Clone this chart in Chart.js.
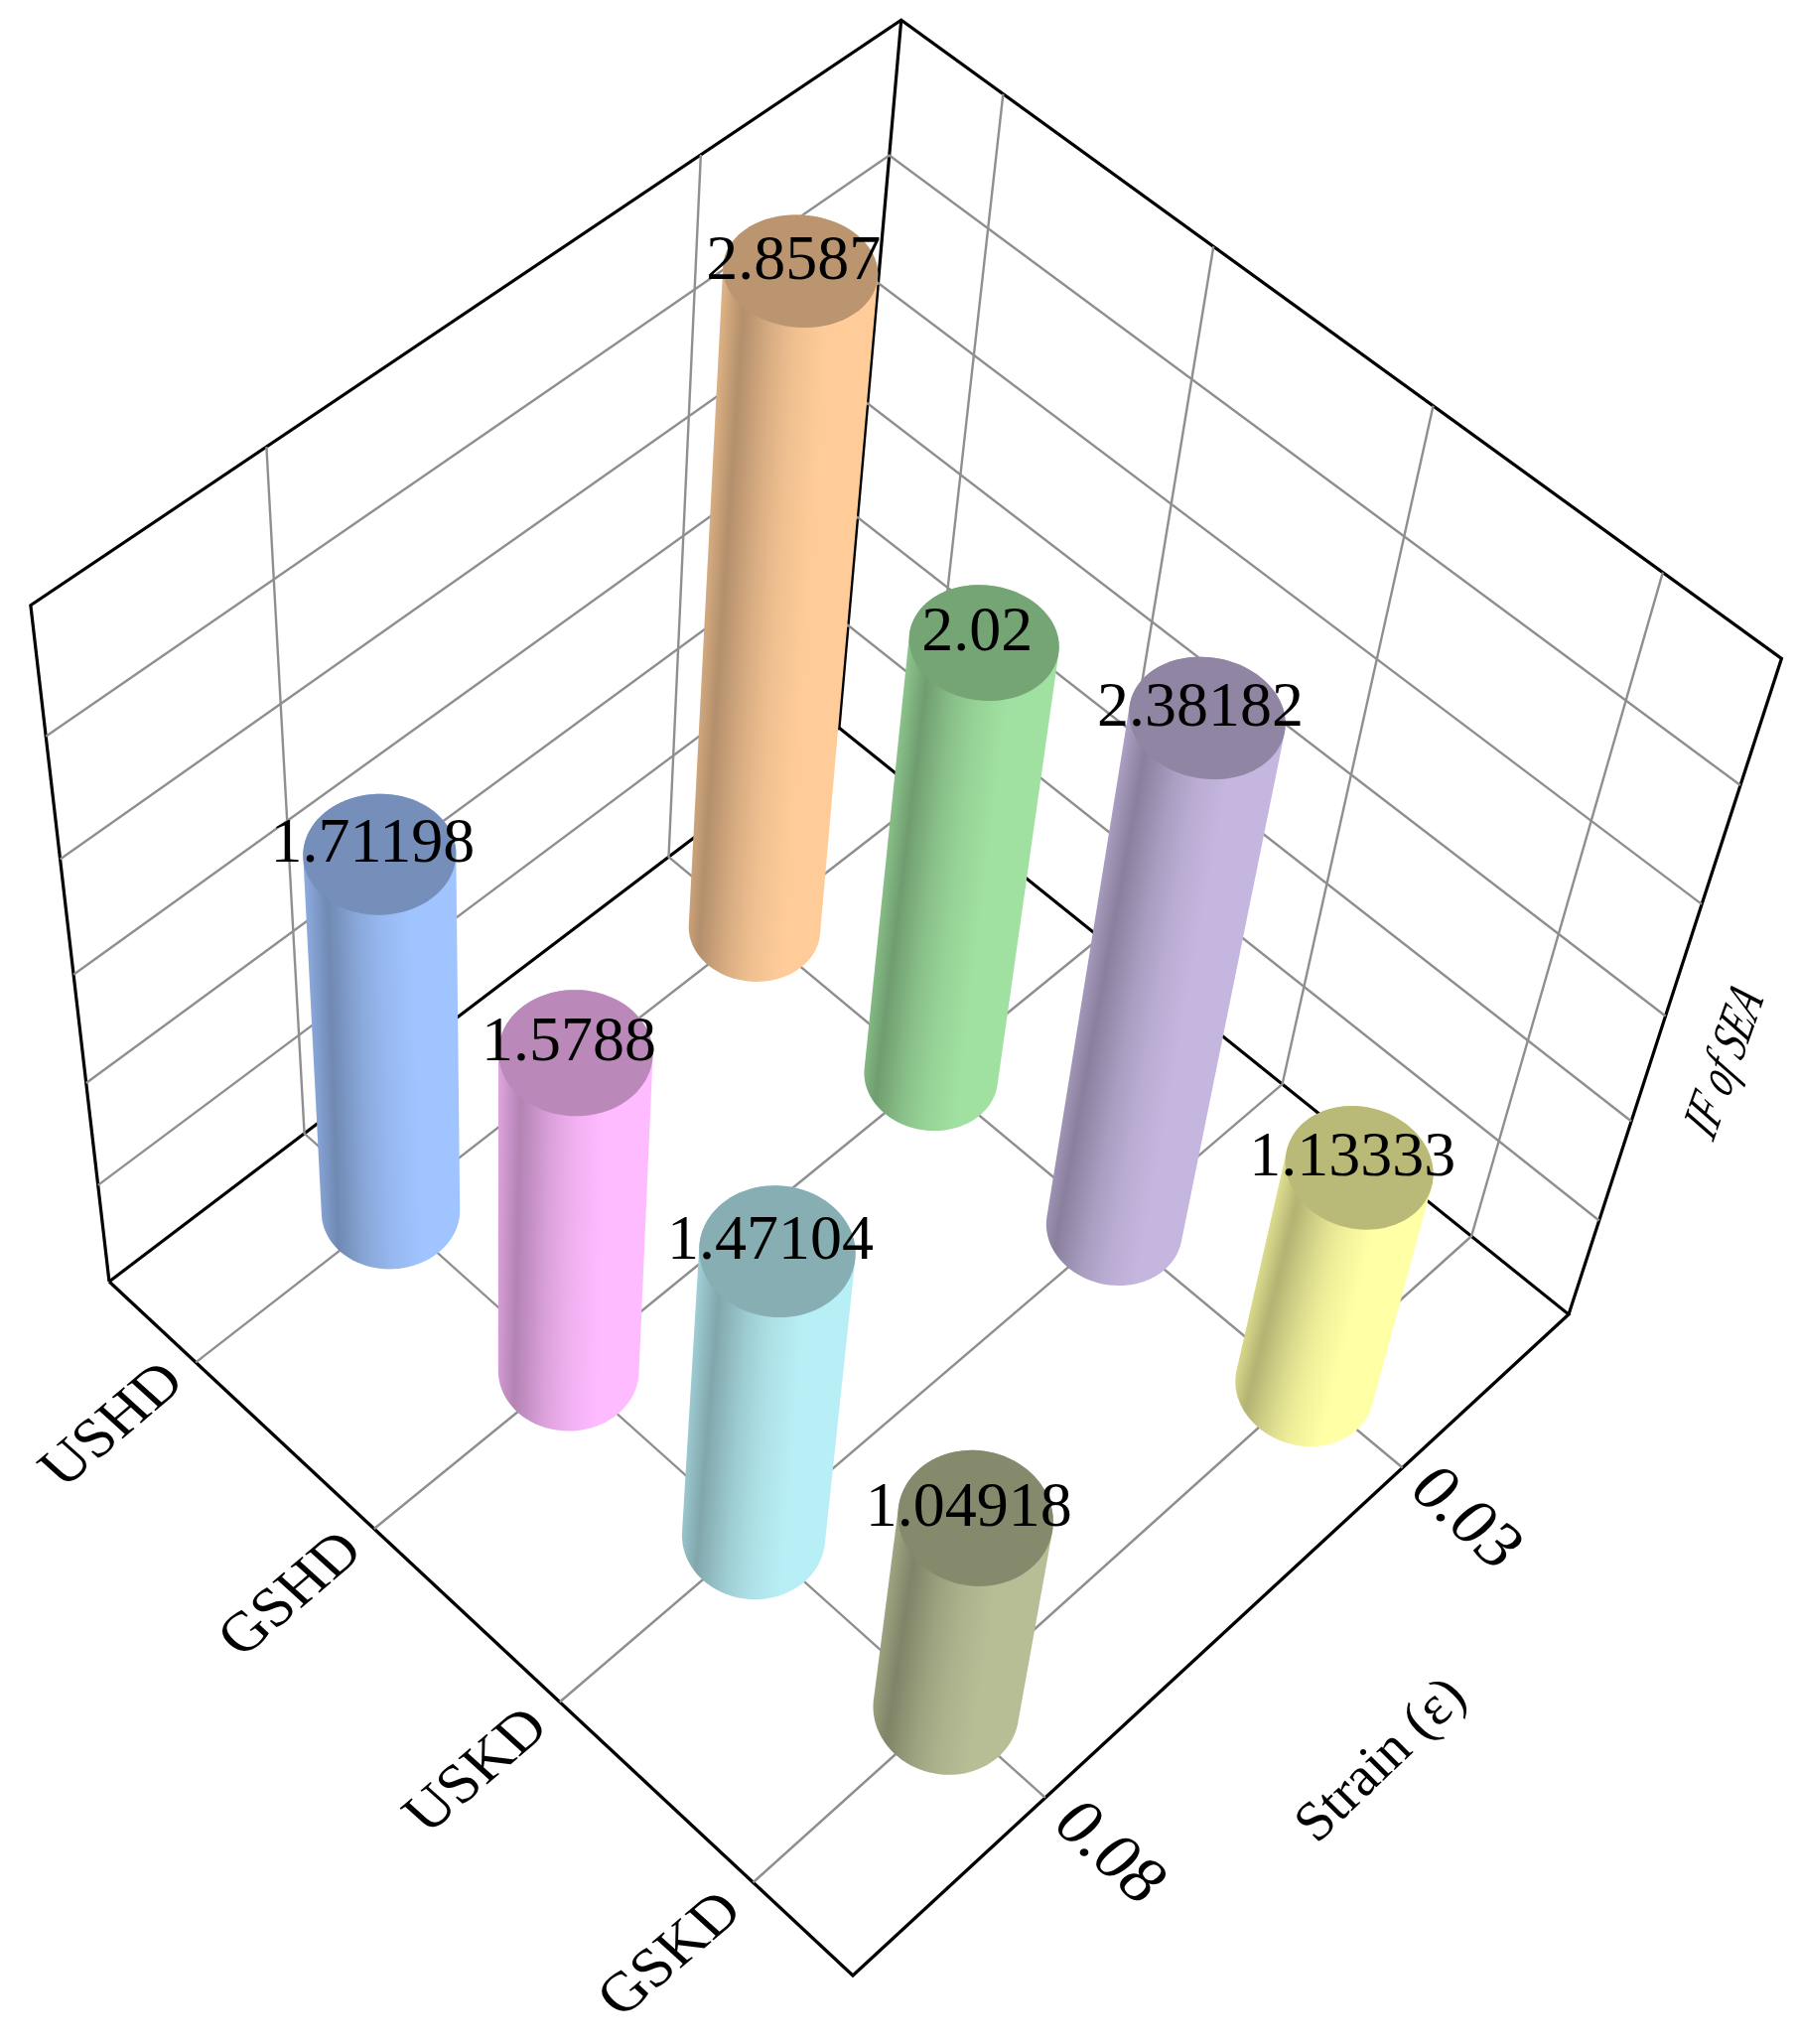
<!DOCTYPE html>
<html>
<head>
<meta charset="utf-8">
<title>IF of SEA</title>
<script src="https://cdn.jsdelivr.net/npm/chart.js@4/dist/chart.umd.min.js"></script>
<style>
  html, body { margin: 0; padding: 0; background: #fff; }
  canvas { display: block; }
</style>
</head>
<body>
<canvas id="chart" width="1811" height="2059"></canvas>
<script>
// Chart data
const categories = ['USHD', 'GSHD', 'USKD', 'GSKD'];
const strains = ['0.08', '0.03'];
const values008 = [1.71198, 1.5788, 1.47104, 1.04918];
const values003 = [2.8587, 2.02, 2.38182, 1.13333];
const zTicks = [0, 0.5, 1, 1.5, 2, 2.5, 3];
const zMax = 3;

// Colours, one per cylinder
const colors008 = ['#A0C4FF', '#FFBBFF', '#B8EEF5', '#B7BD95'];
const colors003 = ['#FFCC99', '#A0E0A0', '#C5B6DF', '#FFFFA5'];

// Camera: where the box corners land on the page
const floorLeft = [110, 1291], floorFront = [859, 1990], floorRight = [1580, 1324], floorBack = [845, 733];
const topLeft = [30, 609], topBack = [908, 22], topRight = [1795, 662];
const radius = 0.067;

// Floor homography, unit square -> quad
function floorMatrix() {
  const [x0, y0] = floorLeft, [x1, y1] = floorFront, [x2, y2] = floorRight, [x3, y3] = floorBack;
  const dx1 = x1 - x2, dx2 = x3 - x2, sx = x0 - x1 + x2 - x3;
  const dy1 = y1 - y2, dy2 = y3 - y2, sy = y0 - y1 + y2 - y3;
  const den = dx1 * dy2 - dx2 * dy1;
  const g = (sx * dy2 - dx2 * sy) / den;
  const h = (dx1 * sy - sx * dy1) / den;
  return { a: x1 - x0 + g * x1, b: x3 - x0 + h * x3, c: x0, d: y1 - y0 + g * y1, e: y3 - y0 + h * y3, f: y0, g, h };
}
const M = floorMatrix();

// Height column, least squares against the three top corners
function heightColumn() {
  const rows = [];
  [[0, 0, topLeft], [0, 1, topBack], [1, 1, topRight]].forEach(([u, v, t]) => {
    const X = M.a * u + M.b * v + M.c, Y = M.d * u + M.e * v + M.f, W = M.g * u + M.h * v + 1;
    rows.push([1, 0, -t[0], t[0] * W - X]);
    rows.push([0, 1, -t[1], t[1] * W - Y]);
  });
  const n = [[0, 0, 0, 0], [0, 0, 0, 0], [0, 0, 0, 0]];
  rows.forEach(r => {
    for (let i = 0; i < 3; i++) for (let j = 0; j < 4; j++) n[i][j] += r[i] * r[j];
  });
  for (let i = 0; i < 3; i++) {
    for (let k = i + 1; k < 3; k++) {
      const m = n[k][i] / n[i][i];
      for (let j = i; j < 4; j++) n[k][j] -= m * n[i][j];
    }
  }
  const s = [0, 0, 0];
  for (let i = 2; i >= 0; i--) {
    let t = n[i][3];
    for (let j = i + 1; j < 3; j++) t -= n[i][j] * s[j];
    s[i] = t / n[i][i];
  }
  return s;
}
const H = heightColumn();

// u: along categories, v: along strain, z: value
function project(u, v, z) {
  const t = z / zMax;
  const W = M.g * u + M.h * v + 1 + t * H[2];
  return {
    x: (M.a * u + M.b * v + M.c + t * H[0]) / W,
    y: (M.d * u + M.e * v + M.f + t * H[1]) / W
  };
}

const catU = i => (i + 0.5) / categories.length;
const strainV = i => (i + 0.5) / strains.length;

function lineSet(points, color, width) {
  return { type: 'scatter', showLine: true, data: points, borderColor: color, borderWidth: width, pointRadius: 0, fill: false, tension: 0 };
}

function buildDatasets() {
  const sets = [];
  const gray = '#8f8f8f', black = '#000';
  // walls, horizontal lines
  zTicks.slice(1, -1).forEach(z => {
    sets.push(lineSet([project(0, 0, z), project(0, 1, z), project(1, 1, z)], gray, 2.4));
  });
  // walls, vertical lines and floor lines
  strains.forEach((s, i) => {
    sets.push(lineSet([project(0, strainV(i), zMax), project(0, strainV(i), 0), project(1, strainV(i), 0)], gray, 2.4));
  });
  categories.forEach((c, i) => {
    sets.push(lineSet([project(catU(i), 0, 0), project(catU(i), 1, 0), project(catU(i), 1, zMax)], gray, 2.4));
  });
  // box frame
  sets.push(lineSet([project(0, 0, 0), project(1, 0, 0), project(1, 1, 0), project(0, 1, 0), project(0, 0, 0)], black, 3.2));
  sets.push(lineSet([project(0, 0, 0), project(0, 0, zMax), project(0, 1, zMax), project(1, 1, zMax), project(1, 1, 0)], black, 3.2));
  sets.push(lineSet([project(0, 1, 0), project(0, 1, zMax)], black, 3.2));
  return sets;
}

// Back row first so the near row paints over it
function buildBars() {
  const bars = [];
  values003.forEach((val, i) => bars.push({ u: catU(i), v: strainV(1), val, color: colors003[i] }));
  values008.forEach((val, i) => bars.push({ u: catU(i), v: strainV(0), val, color: colors008[i] }));
  return bars;
}

function shade(hex, f) {
  const n = parseInt(hex.slice(1), 16);
  const c = [n >> 16, (n >> 8) & 255, n & 255].map(v => Math.round(v * f));
  return `rgb(${c[0]},${c[1]},${c[2]})`;
}

function hull(points) {
  const p = points.slice().sort((a, b) => a.x - b.x || a.y - b.y);
  const cross = (o, a, b) => (a.x - o.x) * (b.y - o.y) - (a.y - o.y) * (b.x - o.x);
  const lower = [], upper = [];
  p.forEach(q => {
    while (lower.length > 1 && cross(lower[lower.length - 2], lower[lower.length - 1], q) <= 0) lower.pop();
    lower.push(q);
  });
  p.slice().reverse().forEach(q => {
    while (upper.length > 1 && cross(upper[upper.length - 2], upper[upper.length - 1], q) <= 0) upper.pop();
    upper.push(q);
  });
  return lower.slice(0, -1).concat(upper.slice(0, -1));
}

function tracePath(ctx, pts) {
  ctx.beginPath();
  pts.forEach((p, i) => (i ? ctx.lineTo(p.x, p.y) : ctx.moveTo(p.x, p.y)));
  ctx.closePath();
}

// text laid on the box: baseline and letter-down directions are given
function skewText(ctx, text, pos, font, ax, ay, bx, by) {
  ctx.save();
  ctx.transform(ax, ay, bx, by, pos.x, pos.y);
  ctx.font = font;
  ctx.fillStyle = '#000';
  ctx.textAlign = 'center';
  ctx.textBaseline = 'middle';
  ctx.fillText(text, 0, 0);
  ctx.restore();
}

const cylinderPlugin = {
  id: 'cylinders',
  afterDatasetsDraw(chart) {
    const ctx = chart.ctx, sx = chart.scales.x, sy = chart.scales.y;
    const px = p => ({ x: sx.getPixelForValue(p.x), y: sy.getPixelForValue(p.y) });
    const ring = (u, v, z) => {
      const out = [];
      for (let i = 0; i < 90; i++) {
        const a = i / 90 * Math.PI * 2;
        out.push(px(project(u + radius * Math.cos(a), v + radius * Math.sin(a), z)));
      }
      return out;
    };
    const bars = buildBars();
    ctx.save();
    bars.forEach(b => {
      const base = ring(b.u, b.v, 0), top = ring(b.u, b.v, b.val);
      const c0 = px(project(b.u, b.v, 0)), c1 = px(project(b.u, b.v, b.val));
      const ax = c1.x - c0.x, ay = c1.y - c0.y, len = Math.hypot(ax, ay);
      // unit vector across the cylinder, pointing left to right
      const nx = -ay / len, ny = ax / len;
      const outline = base.concat(top);
      const proj = outline.map(p => (p.x - c0.x) * nx + (p.y - c0.y) * ny);
      const lo = Math.min(...proj), hi = Math.max(...proj);
      const g = ctx.createLinearGradient(c0.x + nx * lo, c0.y + ny * lo, c0.x + nx * hi, c0.y + ny * hi);
      g.addColorStop(0, shade(b.color, 0.88));
      g.addColorStop(0.15, shade(b.color, 0.7));
      g.addColorStop(0.35, shade(b.color, 0.86));
      g.addColorStop(0.5, shade(b.color, 0.94));
      g.addColorStop(0.7, shade(b.color, 1));
      g.addColorStop(1, shade(b.color, 1));
      tracePath(ctx, hull(outline));
      ctx.fillStyle = g;
      ctx.fill();
      tracePath(ctx, top);
      ctx.fillStyle = shade(b.color, 0.73);
      ctx.fill();
    });
    // value labels go above every cylinder
    bars.forEach(b => {
      const c = px(project(b.u, b.v, b.val));
      skewText(ctx, String(b.val), { x: c.x - 7, y: c.y - 9 }, '64px "Liberation Serif"', 1, 0, 0, 1);
    });
    // tick labels, lying on the floor
    const vd = { x: 0.76, y: -0.65 }, ud = { x: 0.74, y: 0.67 };
    categories.forEach((cat, i) => {
      skewText(ctx, cat, px(project(catU(i), -0.102, 0)), '60px "Liberation Serif"', vd.x, vd.y, ud.x, ud.y);
    });
    strains.forEach((s, i) => {
      skewText(ctx, s, px(project(1.078, strainV(i), 0)), '69px "Liberation Serif"', ud.x, ud.y, -vd.x, -vd.y);
    });
    skewText(ctx, 'Strain (\u03b5)', px(project(1.19, 0.5, 0)), '57px "Liberation Serif"', 0.72, -0.69, 0.71, 0.71);
    skewText(ctx, 'IF of SEA', px(project(1.07, 1, 1.5)), 'italic 56px "Liberation Serif"', 0.23, -0.65, 0.82, 0.57);
    ctx.restore();
  }
};

new Chart(document.getElementById('chart'), {
  type: 'scatter',
  data: { datasets: buildDatasets() },
  options: {
    responsive: false,
    animation: false,
    layout: { padding: 0 },
    plugins: { legend: { display: false }, tooltip: { enabled: false } },
    scales: {
      x: { type: 'linear', min: 0, max: 1811, display: false },
      y: { type: 'linear', min: 0, max: 2059, reverse: true, display: false }
    }
  },
  plugins: [cylinderPlugin]
});
</script>
</body>
</html>
